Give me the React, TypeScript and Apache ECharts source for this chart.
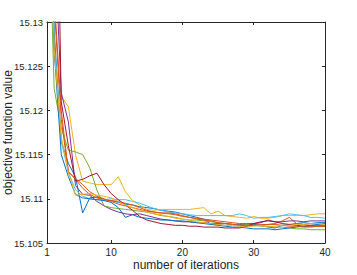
import React, { useEffect, useRef } from "react";
import * as echarts from "echarts";

const iterations: number[] = Array.from({ length: 40 }, (_, i) => i + 1);

const xTicks = [1, 10, 20, 30, 40];

const colors = [
  "#0072BD", "#D95319", "#EDB120", "#7E2F8E", "#77AC30",
  "#4DBEEE", "#A2142F", "#0072BD", "#D95319", "#EDB120",
];

const run1 = [15.165, 15.129, 15.1165, 15.114, 15.1125, 15.1084, 15.1101, 15.1102, 15.1099, 15.1098, 15.1096, 15.1094, 15.1093, 15.1091, 15.109, 15.1089, 15.1087, 15.1086, 15.1085, 15.1083, 15.1081, 15.1079, 15.1077, 15.1071, 15.1071, 15.1072, 15.1071, 15.107, 15.1069, 15.1071, 15.107, 15.1068, 15.1067, 15.107, 15.1071, 15.1072, 15.1073, 15.1072, 15.1073, 15.1073];
const run2 = [15.18, 15.133, 15.12, 15.1131, 15.1122, 15.1112, 15.1105, 15.1101, 15.1099, 15.1098, 15.1097, 15.1095, 15.1093, 15.109, 15.1087, 15.1085, 15.1084, 15.1083, 15.1082, 15.108, 15.1079, 15.1078, 15.1077, 15.1076, 15.1075, 15.1074, 15.1073, 15.1072, 15.1072, 15.1072, 15.1071, 15.1071, 15.1072, 15.1075, 15.1079, 15.1072, 15.1071, 15.107, 15.107, 15.107];
const run3 = [15.16, 15.126, 15.1216, 15.1204, 15.115, 15.112, 15.1118, 15.1116, 15.1116, 15.1116, 15.1125, 15.1108, 15.1098, 15.1093, 15.1088, 15.1087, 15.1088, 15.1088, 15.1088, 15.1088, 15.1088, 15.1089, 15.109, 15.1083, 15.1086, 15.1081, 15.108, 15.1079, 15.1078, 15.108, 15.1078, 15.1078, 15.1079, 15.1081, 15.1081, 15.1081, 15.1081, 15.1082, 15.1083, 15.1083];
const run4 = [15.2, 15.14, 15.122, 15.1187, 15.1115, 15.1105, 15.1104, 15.1097, 15.1092, 15.1088, 15.1085, 15.1083, 15.1082, 15.1083, 15.1081, 15.1079, 15.1077, 15.1076, 15.1075, 15.1074, 15.1074, 15.1073, 15.1073, 15.1072, 15.1072, 15.1072, 15.1071, 15.1071, 15.1071, 15.1072, 15.1073, 15.1076, 15.1074, 15.1074, 15.1075, 15.1075, 15.1074, 15.1075, 15.1075, 15.1075];
const run5 = [15.15, 15.1225, 15.118, 15.1155, 15.1153, 15.115, 15.1135, 15.111, 15.1092, 15.109, 15.1089, 15.1088, 15.1087, 15.1086, 15.1085, 15.1083, 15.1081, 15.108, 15.1079, 15.1077, 15.1076, 15.1076, 15.1075, 15.1074, 15.1073, 15.1072, 15.1071, 15.107, 15.1071, 15.107, 15.1069, 15.1069, 15.1068, 15.1068, 15.1067, 15.1066, 15.1066, 15.1065, 15.1065, 15.1065];
const run6 = [15.165, 15.128, 15.1165, 15.113, 15.111, 15.1103, 15.11, 15.1099, 15.1099, 15.11, 15.1099, 15.1099, 15.1097, 15.1095, 15.1092, 15.1089, 15.1087, 15.1085, 15.1084, 15.1083, 15.1082, 15.1081, 15.1081, 15.1081, 15.1081, 15.1081, 15.1081, 15.1083, 15.1081, 15.1078, 15.1079, 15.1079, 15.108, 15.1081, 15.1083, 15.1082, 15.1081, 15.1079, 15.1079, 15.1078];
const run7 = [15.2, 15.166, 15.121, 15.116, 15.112, 15.1122, 15.1126, 15.1129, 15.1116, 15.1106, 15.1099, 15.1093, 15.1087, 15.108, 15.1076, 15.1074, 15.1072, 15.1071, 15.107, 15.107, 15.1069, 15.1069, 15.1068, 15.1068, 15.1068, 15.1067, 15.1067, 15.1067, 15.1069, 15.1072, 15.1074, 15.1075, 15.1074, 15.1072, 15.1071, 15.107, 15.1069, 15.1069, 15.1069, 15.1069];
const run8 = [15.165, 15.127, 15.115, 15.1125, 15.1105, 15.1101, 15.11, 15.1099, 15.1098, 15.1096, 15.109, 15.1079, 15.1082, 15.1079, 15.1078, 15.1077, 15.1076, 15.1076, 15.1075, 15.1075, 15.1074, 15.1073, 15.1072, 15.1071, 15.107, 15.1069, 15.1068, 15.1068, 15.1067, 15.1066, 15.1066, 15.1066, 15.1065, 15.1066, 15.1067, 15.1068, 15.1069, 15.107, 15.1071, 15.1072];
const run9 = [15.18, 15.132, 15.119, 15.113, 15.1123, 15.1116, 15.1108, 15.1103, 15.11, 15.1097, 15.1094, 15.1092, 15.109, 15.1088, 15.1086, 15.1085, 15.1084, 15.1084, 15.1083, 15.1081, 15.1079, 15.1077, 15.1076, 15.1075, 15.1073, 15.1072, 15.1071, 15.107, 15.107, 15.107, 15.107, 15.1071, 15.1071, 15.107, 15.1069, 15.1069, 15.1068, 15.1068, 15.1069, 15.1069];
const run10 = [15.165, 15.127, 15.117, 15.113, 15.1104, 15.1105, 15.1106, 15.1104, 15.1103, 15.1101, 15.1097, 15.1093, 15.109, 15.1087, 15.1085, 15.1083, 15.1082, 15.108, 15.1078, 15.1077, 15.1076, 15.1074, 15.1073, 15.1072, 15.1071, 15.107, 15.107, 15.1069, 15.1068, 15.1069, 15.107, 15.1068, 15.1069, 15.107, 15.107, 15.1071, 15.1071, 15.1072, 15.1072, 15.1071];

const runs = [run1, run2, run3, run4, run5, run6, run7, run8, run9, run10];

const FONT = "Liberation Sans, Arial, Helvetica, sans-serif";
const AX = "#262626";

export default function App() {
  const ref = useRef<HTMLDivElement>(null);
  useEffect(() => {
    if (!ref.current) return;
    const chart = echarts.init(ref.current, undefined, { renderer: "svg" });
    const fmtY = (v: number) => String(parseFloat(v.toFixed(3)));
    const axisLine = { show: true, lineStyle: { color: AX, width: 1 } };
    chart.setOption({
      animation: false,
      backgroundColor: "#ffffff",
      grid: {
        left: 47,
        right: 32,
        top: 22,
        bottom: 32,
        containLabel: false,
        outerBoundsMode: "none",
      },
      xAxis: [
        {
          type: "value",
          min: 1,
          max: 40,
          position: "bottom",
          name: "number of iterations",
          nameLocation: "middle",
          nameGap: 16,
          nameMoveOverlap: false,
          nameTextStyle: { fontFamily: FONT, fontSize: 12, color: AX },
          axisLine,
          axisTick: { show: true, inside: true, length: 3, customValues: xTicks, lineStyle: { color: AX } },
          axisLabel: { customValues: xTicks, fontFamily: FONT, fontSize: 10, color: AX, margin: 4 },
          splitLine: { show: false },
        },
        {
          type: "value",
          min: 1,
          max: 40,
          position: "top",
          axisLine,
          axisTick: { show: true, inside: true, length: 3, customValues: xTicks, lineStyle: { color: AX } },
          axisLabel: { show: false, customValues: xTicks },
          splitLine: { show: false },
        },
      ],
      yAxis: [
        {
          type: "value",
          min: 15.105,
          max: 15.13,
          interval: 0.005,
          position: "left",
          name: "objective function value",
          nameLocation: "middle",
          nameGap: 33,
          nameMoveOverlap: false,
          nameTextStyle: { fontFamily: FONT, fontSize: 12, color: AX },
          axisLine,
          axisTick: { show: true, inside: true, length: 3, lineStyle: { color: AX } },
          axisLabel: { formatter: fmtY, fontFamily: FONT, fontSize: 9.5, color: AX, margin: 4 },
          splitLine: { show: false },
        },
        {
          type: "value",
          min: 15.105,
          max: 15.13,
          interval: 0.005,
          position: "right",
          axisLine,
          axisTick: { show: true, inside: true, length: 3, lineStyle: { color: AX } },
          axisLabel: { show: false },
          splitLine: { show: false },
        },
      ],
      series: runs.map((r, k) => ({
        type: "line",
        xAxisIndex: 0,
        yAxisIndex: 0,
        data: r.map((v, i) => [iterations[i], v]),
        showSymbol: false,
        symbol: "none",
        clip: true,
        lineStyle: { color: colors[k], width: 1 },
        itemStyle: { color: colors[k] },
      })),
    });
    return () => chart.dispose();
  }, []);
  return (
    <div
      ref={ref}
      style={{ position: "fixed", left: 0, top: 0, width: 357, height: 275 }}
    />
  );
}
